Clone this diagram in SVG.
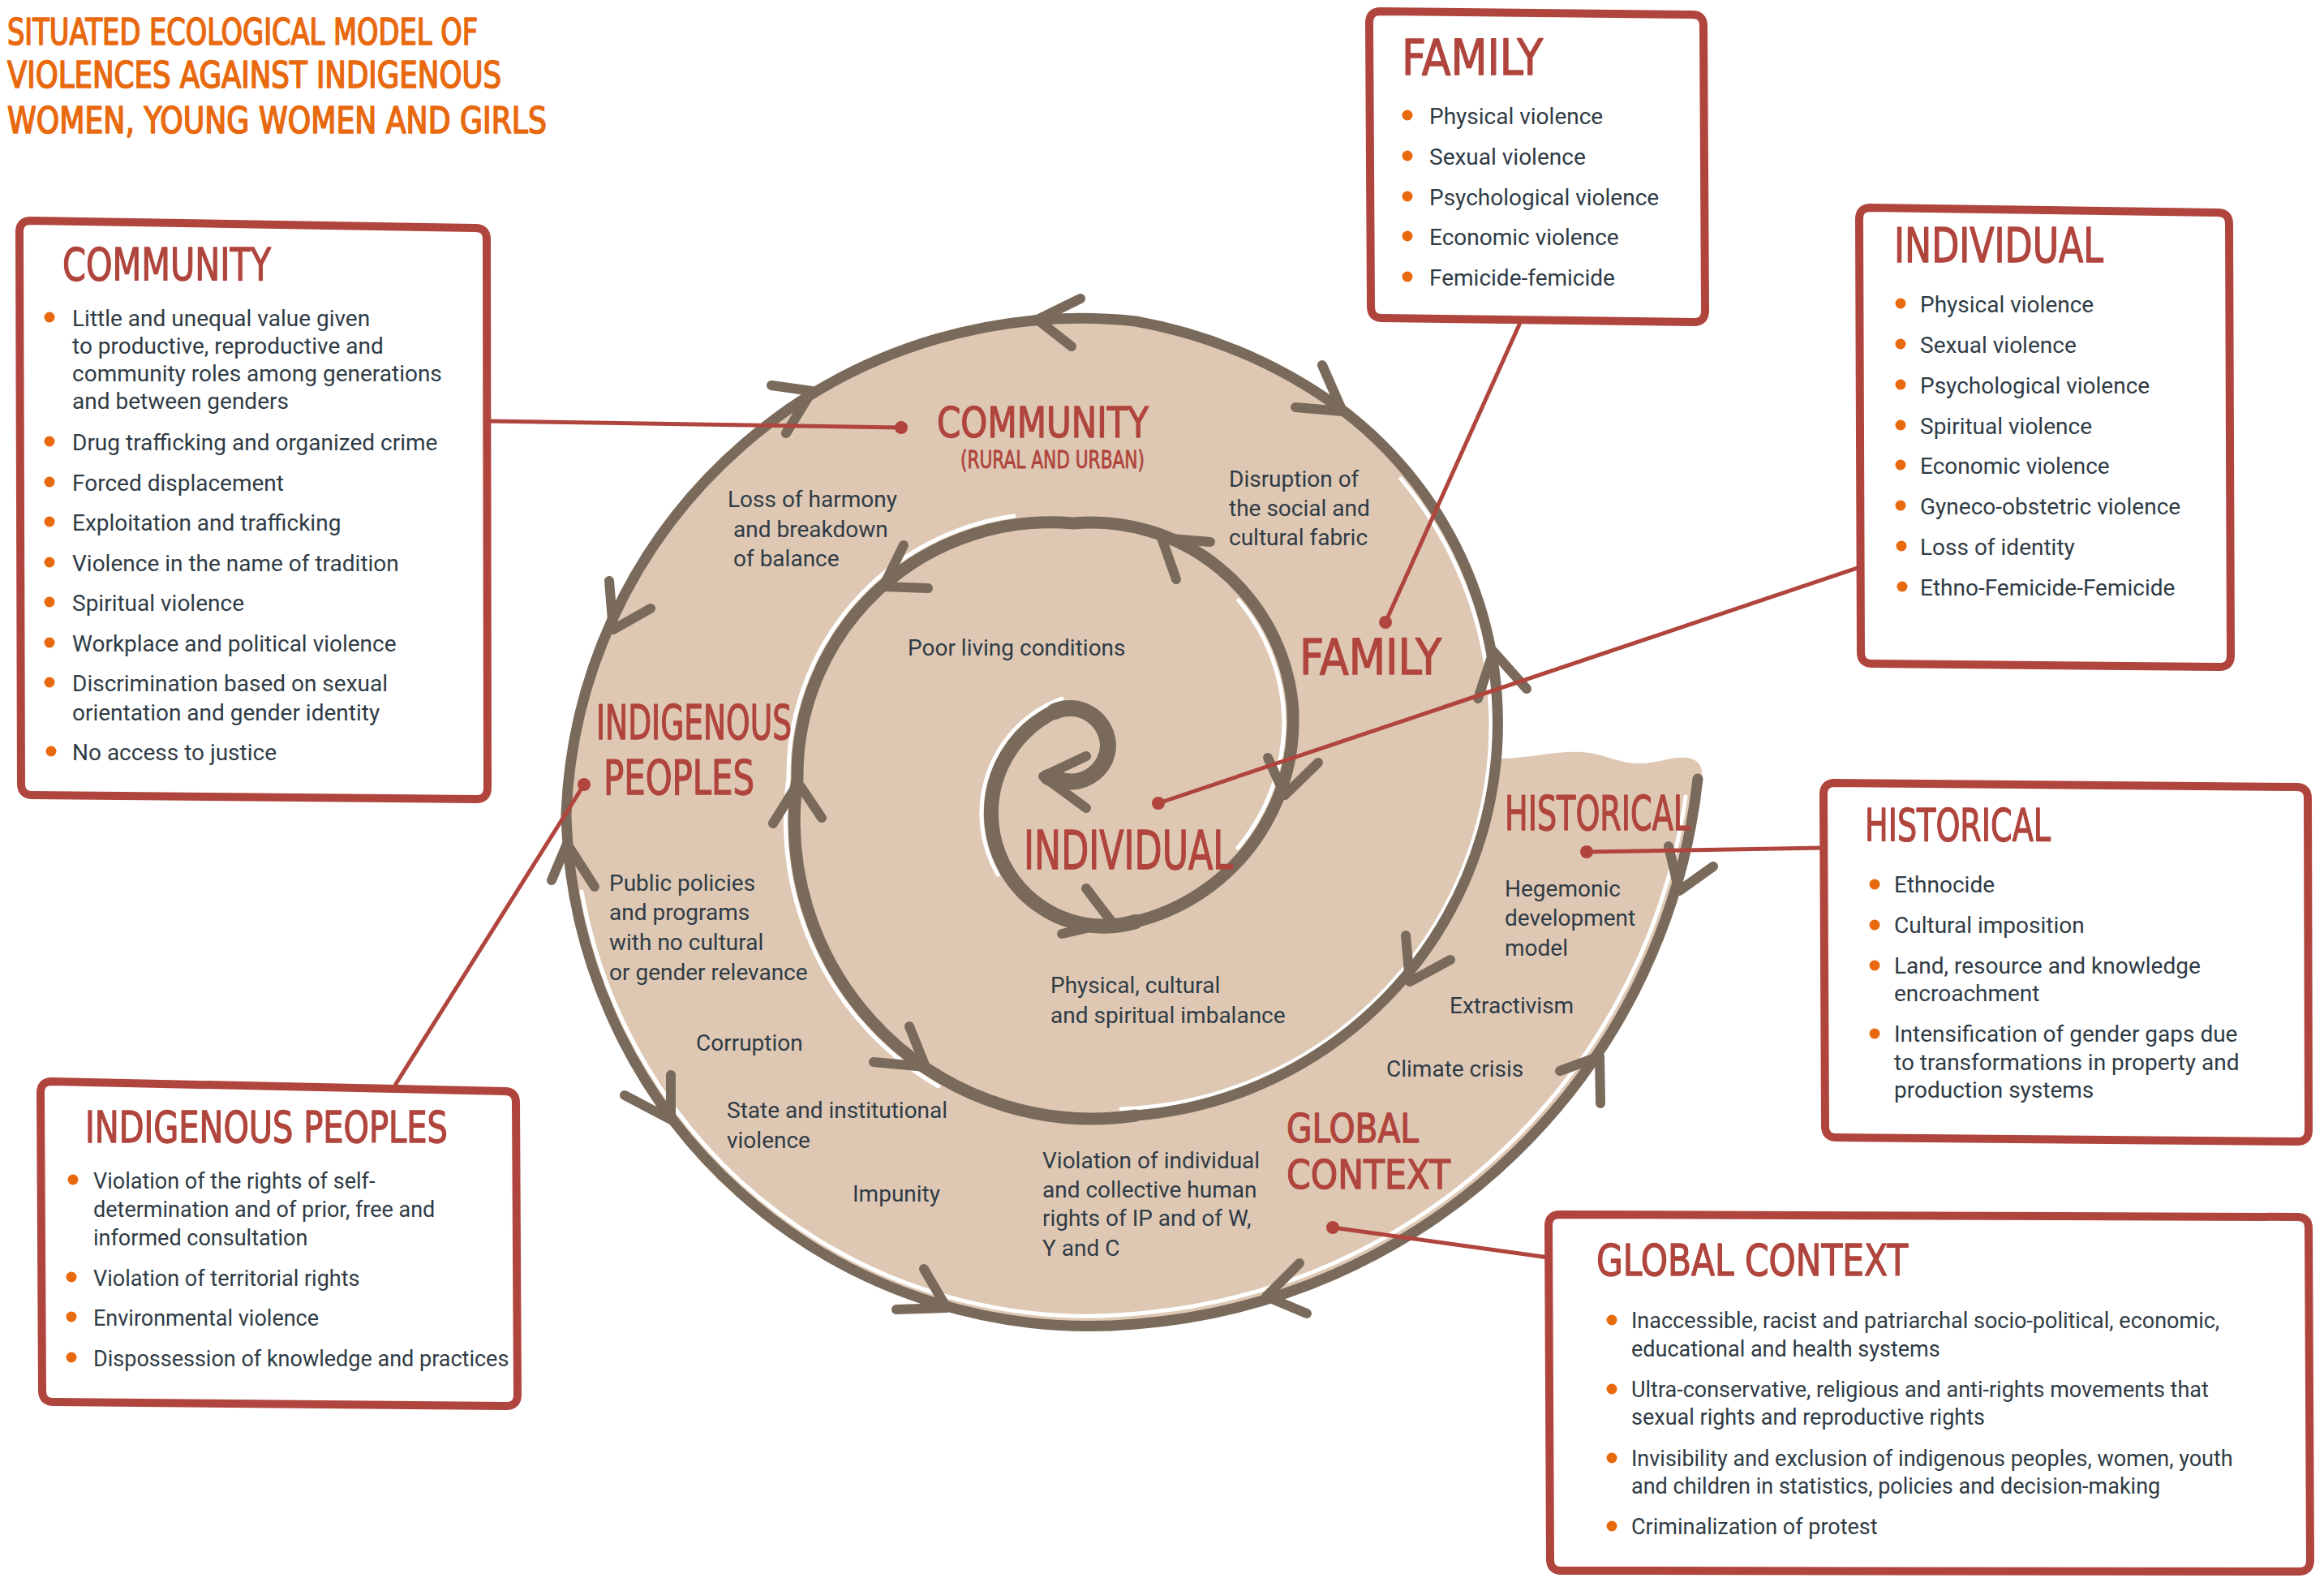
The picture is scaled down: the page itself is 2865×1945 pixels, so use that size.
<svg xmlns="http://www.w3.org/2000/svg" width="2865" height="1945" viewBox="0 0 2865 1945">
<defs>
<style>
.hand{font-family:'Liberation Sans Narrow','DejaVu Sans Condensed','Liberation Sans',sans-serif;fill:#B0453D;stroke:#B0453D;stroke-width:1.3;stroke-linejoin:round}
.ttl{font-family:'Liberation Sans Narrow','DejaVu Sans Condensed','Liberation Sans',sans-serif;fill:#E8690E;stroke:#E8690E;stroke-width:1.6;stroke-linejoin:round}
.body{font-family:Roboto,'Liberation Sans',sans-serif;font-size:28px;fill:#2F3B45}
.gc{font-size:27px}
.ip{font-size:27px}
.box{fill:#fff;stroke:#B0453D;stroke-width:10;stroke-linejoin:round}
.dot{fill:#E8690E}
.sp{fill:none;stroke:#7A6A5B;stroke-linecap:round}
.chev{fill:none;stroke:#7A6A5B;stroke-width:12;stroke-linecap:round;stroke-linejoin:round}
.hl{fill:none;stroke:#fff;stroke-width:5;stroke-linecap:round}
.conn{stroke:#B0453D;stroke-width:5;fill:none;stroke-linecap:round}
.cdot{fill:#B0453D}
</style>
</defs>
<rect width="2865" height="1945" fill="#fff"/>

<g id="spiral">
<path fill="#DEC8B4" d="M 1848 935 C 1880 935 1920 925 1951 927 C 1978 929 1995 941 2020 941 C 2045 941 2060 932 2080 934 C 2096 936 2100 948 2098 962 L 2093 962 A 756 756 0 0 1 1400 1632 A 645 645 0 0 1 698 1003 A 635 635 0 0 1 1400 396 A 614 614 0 0 1 1657 507 A 485 485 0 0 1 1848 935 Z"/>
<path class="hl" d="M 2078 982 A 744 744 0 0 1 1412 1618 A 633 633 0 0 1 717 1099"/>
<path class="hl" d="M 1727 590 A 473 473 0 0 1 1382 1367"/>
<path class="hl" d="M 1157 1339 A 378 378 0 0 1 972 959 A 323 323 0 0 1 1250 636"/>
<path class="hl" d="M 1527 740 A 238 238 0 0 1 1583 890 A 244 244 0 0 1 1526 1045"/>
<path class="hl" d="M 1230 1078 A 151 151 0 0 1 1309 861"/>
<path class="sp" stroke-width="13" d="M 2093 960 A 756 756 0 0 1 1400 1632 A 645 645 0 0 1 698 1003 A 635 635 0 0 1 1400 396 A 614 614 0 0 1 1657 507 A 485 485 0 0 1 1400 1375"/>
<path class="sp" stroke-width="15" d="M 1400 1375 A 367 367 0 0 1 983 960 A 312 312 0 0 1 1323 645 A 249 249 0 0 1 1593 865 A 255 255 0 0 1 1400 1136"/>
<path class="sp" stroke-width="18" d="M 1400 1136 A 139 139 0 0 1 1222 1006 A 139 139 0 0 1 1300 877"/>
<path class="sp" stroke-width="20" d="M 1300 877 A 47 47 0 0 1 1366 920 A 46 46 0 0 1 1314 963 L 1292 958"/>
<polyline class="chev" points="2057,1043 2070,1098 2112,1068"/>
<polyline class="chev" points="1973,1360 1972,1302 1923,1320"/>
<polyline class="chev" points="1602,1557 1561,1598 1611,1619"/>
<polyline class="chev" points="1139,1564 1167,1612 1105,1614"/>
<polyline class="chev" points="827,1325 827,1380 770,1350"/>
<polyline class="chev" points="680,1085 699,1040 733,1093"/>
<polyline class="chev" points="751,716 756,776 802,750"/>
<polyline class="chev" points="951,475 1001,482 969,534"/>
<polyline class="chev" points="1332,368 1279,394 1321,427"/>
<polyline class="chev" points="1630,450 1655,507 1597,502"/>
<polyline class="chev" points="1822,861 1841,803 1882,849"/>
<polyline class="chev" points="1733,1153 1738,1210 1788,1183"/>
<polyline class="chev" points="1121,1265 1141,1315 1077,1309"/>
<polyline class="chev" points="953,1015 984,965 1013,1008"/>
<polyline class="chev" points="1114,672 1089,723 1144,725"/>
<polyline class="chev" points="1492,668 1432,663 1450,714"/>
<polyline class="chev" points="1563,934 1584,980 1625,940"/>
<polyline class="chev" points="1339,1095 1371,1137 1309,1151"/>
<polyline class="chev" stroke-width="16" points="1339,932 1286,957 1339,996"/>
</g>

<g id="spiral-labels">
<text class="hand" x="1155" y="539" font-size="52" textLength="261" lengthAdjust="spacingAndGlyphs">COMMUNITY</text>
<text class="hand" x="1184" y="577" font-size="30" textLength="227" lengthAdjust="spacingAndGlyphs" style="stroke-width:0.8">(RURAL AND URBAN)</text>
<text class="hand" x="1602" y="831" font-size="60" textLength="175" lengthAdjust="spacingAndGlyphs">FAMILY</text>
<text class="hand" x="735" y="911" font-size="58" textLength="241" lengthAdjust="spacingAndGlyphs">INDIGENOUS</text>
<text class="hand" x="744" y="979" font-size="58" textLength="186" lengthAdjust="spacingAndGlyphs">PEOPLES</text>
<text class="hand" x="1262" y="1071" font-size="66" textLength="258" lengthAdjust="spacingAndGlyphs">INDIVIDUAL</text>
<text class="hand" x="1855" y="1023" font-size="58" textLength="229" lengthAdjust="spacingAndGlyphs">HISTORICAL</text>
<text class="hand" x="1586" y="1408" font-size="50" textLength="163" lengthAdjust="spacingAndGlyphs">GLOBAL</text>
<text class="hand" x="1586" y="1465" font-size="50" textLength="202" lengthAdjust="spacingAndGlyphs">CONTEXT</text>
<text class="body" x="897" y="625">Loss of harmony</text>
<text class="body" x="904" y="662">and breakdown</text>
<text class="body" x="904" y="698">of balance</text>
<text class="body" x="1515" y="600">Disruption of</text>
<text class="body" x="1515" y="636">the social and</text>
<text class="body" x="1515" y="672">cultural fabric</text>
<text class="body" x="1119" y="808">Poor living conditions</text>
<text class="body" x="751" y="1098">Public policies</text>
<text class="body" x="751" y="1134">and programs</text>
<text class="body" x="751" y="1171">with no cultural</text>
<text class="body" x="751" y="1208">or gender relevance</text>
<text class="body" x="858" y="1295">Corruption</text>
<text class="body" x="896" y="1378">State and institutional</text>
<text class="body" x="896" y="1415">violence</text>
<text class="body" x="1051" y="1481">Impunity</text>
<text class="body" x="1285" y="1440">Violation of individual</text>
<text class="body" x="1285" y="1476">and collective human</text>
<text class="body" x="1285" y="1511">rights of IP and of W,</text>
<text class="body" x="1285" y="1548">Y and C</text>
<text class="body" x="1295" y="1224">Physical, cultural</text>
<text class="body" x="1295" y="1261">and spiritual imbalance</text>
<text class="body" x="1855" y="1105">Hegemonic</text>
<text class="body" x="1855" y="1141">development</text>
<text class="body" x="1855" y="1178">model</text>
<text class="body" x="1787" y="1249">Extractivism</text>
<text class="body" x="1709" y="1327">Climate crisis</text>
</g>

<g id="connectors">
<line class="conn" x1="600" y1="519" x2="1111" y2="527"/>
<circle class="cdot" cx="1111" cy="527" r="8"/>
<line class="conn" x1="1873" y1="400" x2="1708" y2="767"/>
<circle class="cdot" cx="1708" cy="767" r="8"/>
<line class="conn" x1="2293" y1="699" x2="1428" y2="990"/>
<circle class="cdot" cx="1428" cy="990" r="8"/>
<line class="conn" x1="488" y1="1336" x2="720" y2="967"/>
<circle class="cdot" cx="720" cy="967" r="8"/>
<line class="conn" x1="2248" y1="1045" x2="1956" y2="1050"/>
<circle class="cdot" cx="1956" cy="1050" r="8"/>
<line class="conn" x1="1909" y1="1550" x2="1643" y2="1513"/>
<circle class="cdot" cx="1643" cy="1513" r="8"/>
</g>

<g id="title">
<text class="ttl" x="9" y="55" font-size="44" textLength="580" lengthAdjust="spacingAndGlyphs">SITUATED ECOLOGICAL MODEL OF</text>
<text class="ttl" x="9" y="108" font-size="44" textLength="609" lengthAdjust="spacingAndGlyphs">VIOLENCES AGAINST INDIGENOUS</text>
<text class="ttl" x="9" y="164" font-size="44" textLength="665" lengthAdjust="spacingAndGlyphs">WOMEN, YOUNG WOMEN AND GIRLS</text>
</g>

<g id="node-community">
<path class="box" d="M 38 272 L 586 281 Q 600 281 600 295 L 601 971 Q 601 985 587 985 L 40 980 Q 26 980 26 966 L 24 286 Q 24 272 38 272 Z"/>
<text class="hand" x="77" y="345" font-size="56" textLength="257" lengthAdjust="spacingAndGlyphs">COMMUNITY</text>
<circle class="dot" cx="61" cy="391" r="6.5"/>
<text class="body" x="89" y="402">Little and unequal value given</text>
<text class="body" x="89" y="436">to productive, reproductive and</text>
<text class="body" x="89" y="470">community roles among generations</text>
<text class="body" x="89" y="504">and between genders</text>
<circle class="dot" cx="61" cy="544" r="6.5"/>
<text class="body" x="89" y="555">Drug trafficking and organized crime</text>
<circle class="dot" cx="61" cy="594" r="6.5"/>
<text class="body" x="89" y="605">Forced displacement</text>
<circle class="dot" cx="61" cy="643" r="6.5"/>
<text class="body" x="89" y="654">Exploitation and trafficking</text>
<circle class="dot" cx="61" cy="693" r="6.5"/>
<text class="body" x="89" y="704">Violence in the name of tradition</text>
<circle class="dot" cx="61" cy="742" r="6.5"/>
<text class="body" x="89" y="753">Spiritual violence</text>
<circle class="dot" cx="61" cy="792" r="6.5"/>
<text class="body" x="89" y="803">Workplace and political violence</text>
<circle class="dot" cx="61" cy="841" r="6.5"/>
<text class="body" x="89" y="852">Discrimination based on sexual</text>
<text class="body" x="89" y="888">orientation and gender identity</text>
<circle class="dot" cx="63" cy="926" r="6.5"/>
<text class="body" x="89" y="937">No access to justice</text>
</g>

<g id="node-family">
<path class="box" d="M 1702 14 L 2086 18 Q 2100 18 2100 32 L 2102 383 Q 2102 397 2088 397 L 1704 392 Q 1690 392 1690 378 L 1688 28 Q 1688 14 1702 14 Z"/>
<text class="hand" x="1728" y="92" font-size="60" textLength="174" lengthAdjust="spacingAndGlyphs">FAMILY</text>
<circle class="dot" cx="1735" cy="142" r="6.5"/>
<text class="body" x="1762" y="153">Physical violence</text>
<circle class="dot" cx="1735" cy="192" r="6.5"/>
<text class="body" x="1762" y="203">Sexual violence</text>
<circle class="dot" cx="1735" cy="242" r="6.5"/>
<text class="body" x="1762" y="253">Psychological violence</text>
<circle class="dot" cx="1735" cy="291" r="6.5"/>
<text class="body" x="1762" y="302">Economic violence</text>
<circle class="dot" cx="1735" cy="341" r="6.5"/>
<text class="body" x="1762" y="352">Femicide-femicide</text>
</g>

<g id="node-individual">
<path class="box" d="M 2306 256 L 2734 262 Q 2748 262 2748 276 L 2750 808 Q 2750 822 2736 822 L 2308 818 Q 2294 818 2294 804 L 2292 270 Q 2292 256 2306 256 Z"/>
<text class="hand" x="2335" y="323" font-size="58" textLength="258" lengthAdjust="spacingAndGlyphs">INDIVIDUAL</text>
<circle class="dot" cx="2343" cy="374" r="6.5"/>
<text class="body" x="2367" y="385">Physical violence</text>
<circle class="dot" cx="2343" cy="424" r="6.5"/>
<text class="body" x="2367" y="435">Sexual violence</text>
<circle class="dot" cx="2343" cy="474" r="6.5"/>
<text class="body" x="2367" y="485">Psychological violence</text>
<circle class="dot" cx="2343" cy="524" r="6.5"/>
<text class="body" x="2367" y="535">Spiritual violence</text>
<circle class="dot" cx="2343" cy="573" r="6.5"/>
<text class="body" x="2367" y="584">Economic violence</text>
<circle class="dot" cx="2343" cy="623" r="6.5"/>
<text class="body" x="2367" y="634">Gyneco-obstetric violence</text>
<circle class="dot" cx="2344" cy="673" r="6.5"/>
<text class="body" x="2367" y="684">Loss of identity</text>
<circle class="dot" cx="2345" cy="723" r="6.5"/>
<text class="body" x="2367" y="734">Ethno-Femicide-Femicide</text>
</g>

<g id="node-historical">
<path class="box" d="M 2262 965 L 2831 970 Q 2845 970 2845 984 L 2846 1393 Q 2846 1407 2832 1407 L 2264 1402 Q 2250 1402 2250 1388 L 2248 979 Q 2248 965 2262 965 Z"/>
<text class="hand" x="2299" y="1036" font-size="56" textLength="229" lengthAdjust="spacingAndGlyphs">HISTORICAL</text>
<circle class="dot" cx="2311" cy="1090" r="6.5"/>
<text class="body" x="2335" y="1100">Ethnocide</text>
<circle class="dot" cx="2311" cy="1140" r="6.5"/>
<text class="body" x="2335" y="1150">Cultural imposition</text>
<circle class="dot" cx="2311" cy="1190" r="6.5"/>
<text class="body" x="2335" y="1200">Land, resource and knowledge</text>
<text class="body" x="2335" y="1234">encroachment</text>
<circle class="dot" cx="2311" cy="1274" r="6.5"/>
<text class="body" x="2335" y="1284">Intensification of gender gaps due</text>
<text class="body" x="2335" y="1319">to transformations in property and</text>
<text class="body" x="2335" y="1353">production systems</text>
</g>

<g id="node-indigenous-peoples">
<path class="box" d="M 64 1333 L 622 1345 Q 636 1345 636 1359 L 638 1719 Q 638 1733 624 1733 L 66 1728 Q 52 1728 52 1714 L 50 1347 Q 50 1333 64 1333 Z"/>
<text class="hand" x="105" y="1408" font-size="54" textLength="447" lengthAdjust="spacingAndGlyphs">INDIGENOUS PEOPLES</text>
<circle class="dot" cx="90" cy="1454" r="6.5"/>
<text class="body ip" x="115" y="1465">Violation of the rights of self-</text>
<text class="body ip" x="115" y="1500">determination and of prior, free and</text>
<text class="body ip" x="115" y="1535">informed consultation</text>
<circle class="dot" cx="88" cy="1574" r="6.5"/>
<text class="body ip" x="115" y="1585">Violation of territorial rights</text>
<circle class="dot" cx="88" cy="1623" r="6.5"/>
<text class="body ip" x="115" y="1634">Environmental violence</text>
<circle class="dot" cx="88" cy="1673" r="6.5"/>
<text class="body ip" x="115" y="1684">Dispossession of knowledge and practices</text>
</g>

<g id="node-global-context">
<path class="box" d="M 1923 1497 L 2832 1500 Q 2846 1500 2846 1514 L 2848 1923 Q 2848 1937 2834 1937 L 1925 1936 Q 1911 1936 1911 1922 L 1909 1511 Q 1909 1497 1923 1497 Z"/>
<text class="hand" x="1968" y="1572" font-size="54" textLength="384" lengthAdjust="spacingAndGlyphs">GLOBAL CONTEXT</text>
<circle class="dot" cx="1987" cy="1627" r="6.5"/>
<text class="body gc" x="2011" y="1637">Inaccessible, racist and patriarchal socio-political, economic,</text>
<text class="body gc" x="2011" y="1672">educational and health systems</text>
<circle class="dot" cx="1987" cy="1712" r="6.5"/>
<text class="body gc" x="2011" y="1722">Ultra-conservative, religious and anti-rights movements that</text>
<text class="body gc" x="2011" y="1756">sexual rights and reproductive rights</text>
<circle class="dot" cx="1987" cy="1797" r="6.5"/>
<text class="body gc" x="2011" y="1807">Invisibility and exclusion of indigenous peoples, women, youth</text>
<text class="body gc" x="2011" y="1841">and children in statistics, policies and decision-making</text>
<circle class="dot" cx="1987" cy="1881" r="6.5"/>
<text class="body gc" x="2011" y="1891">Criminalization of protest</text>
</g>
</svg>
